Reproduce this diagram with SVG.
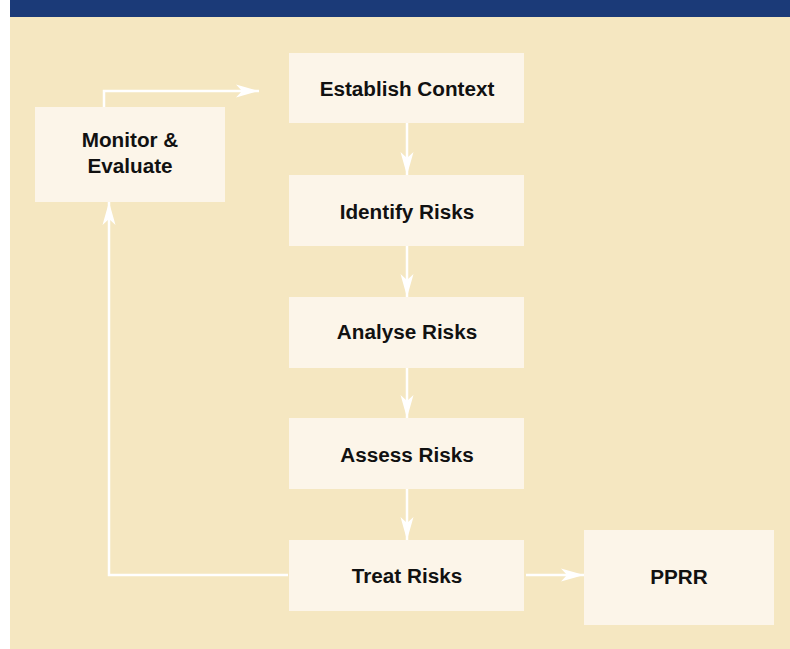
<svg xmlns="http://www.w3.org/2000/svg" width="790" height="649" viewBox="0 0 790 649">
  <style>
    .box { fill: #fcf5e9; }
    .lbl { font-family: "Liberation Sans", Arial, sans-serif; font-weight: bold; font-size: 20.7px; fill: #111111; text-anchor: middle; }
    .conn { fill: none; stroke: #ffffff; stroke-width: 2.5; }
  </style>
  <defs>
    <marker id="arrow" markerUnits="userSpaceOnUse" markerWidth="26" markerHeight="16" viewBox="-25 -8 26 16" refX="0" refY="0" orient="auto">
      <path d="M0,0 L-23,-6.5 L-17,0 L-23,6.5 Z" fill="#ffffff"/>
    </marker>
  </defs>

  <rect id="header" x="10" y="0" width="780" height="17" fill="#1b3a78"/>
  <rect id="panel" x="10" y="17" width="780" height="632" fill="#f5e7c1"/>

  <g id="connectors">
    <line class="conn" x1="407" y1="123" x2="407" y2="175" marker-end="url(#arrow)"/>
    <line class="conn" x1="407" y1="246" x2="407" y2="297" marker-end="url(#arrow)"/>
    <line class="conn" x1="407" y1="368" x2="407" y2="418" marker-end="url(#arrow)"/>
    <line class="conn" x1="407" y1="489" x2="407" y2="540" marker-end="url(#arrow)"/>
    <line class="conn" x1="526" y1="575" x2="584" y2="575" marker-end="url(#arrow)"/>
    <polyline class="conn" points="288,575 109,575 109,202" marker-end="url(#arrow)"/>
    <polyline class="conn" points="104,107 104,91 259,91" marker-end="url(#arrow)"/>
  </g>

  <g id="node-establish">
    <rect class="box" x="289" y="53" width="235" height="70"/>
    <text class="lbl" x="407" y="96">Establish Context</text>
  </g>
  <g id="node-identify">
    <rect class="box" x="289" y="175" width="235" height="71"/>
    <text class="lbl" x="407" y="219">Identify Risks</text>
  </g>
  <g id="node-analyse">
    <rect class="box" x="289" y="297" width="235" height="71"/>
    <text class="lbl" x="407" y="339">Analyse Risks</text>
  </g>
  <g id="node-assess">
    <rect class="box" x="289" y="418" width="235" height="71"/>
    <text class="lbl" x="407" y="462">Assess Risks</text>
  </g>
  <g id="node-treat">
    <rect class="box" x="289" y="540" width="235" height="71"/>
    <text class="lbl" x="407" y="583">Treat Risks</text>
  </g>
  <g id="node-pprr">
    <rect class="box" x="584" y="530" width="190" height="95"/>
    <text class="lbl" x="679" y="584">PPRR</text>
  </g>
  <g id="node-monitor">
    <rect class="box" x="35" y="107" width="190" height="95"/>
    <text class="lbl" x="130" y="147">Monitor &amp;</text>
    <text class="lbl" x="130" y="173">Evaluate</text>
  </g>
</svg>
